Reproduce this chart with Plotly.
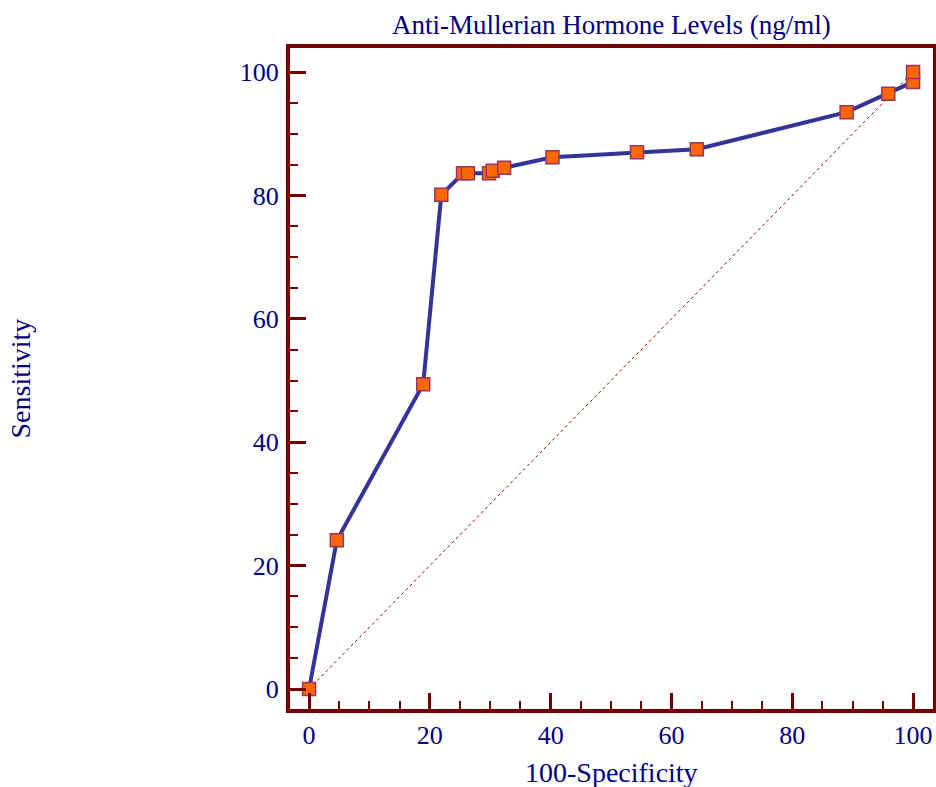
import plotly.graph_objects as go

# ROC points
fpr = [0, 4.6, 18.9, 21.9, 25.5, 26.3, 29.8, 30.4, 32.3, 40.3, 54.3, 64.2, 89.0, 95.9, 100, 100]
sens = [0, 24.1, 49.4, 80.1, 83.6, 83.6, 83.6, 84.0, 84.5, 86.2, 87.0, 87.5, 93.5, 96.5, 98.4, 100]
diag_x = [0, 100]
diag_y = [0, 100]
tick_vals = [0, 20, 40, 60, 80, 100]
tick_text = ["0", "20", "40", "60", "80", "100"]

FONT = "Liberation Serif, Times New Roman, serif"
NAVY = "#000080"
FRAME = "#750000"

fig = go.Figure()
fig.add_trace(go.Scatter(x=diag_x, y=diag_y, mode="lines",
                         line=dict(color="#990000", width=1, dash="dot"),
                         hoverinfo="skip", showlegend=False))
fig.add_trace(go.Scatter(x=fpr, y=sens, mode="lines+markers",
                         line=dict(color="#333399", width=4),
                         marker=dict(symbol="square", size=13, color="#FF6600",
                                     line=dict(color="#993366", width=1.5)),
                         showlegend=False))

axis_common = dict(
    showgrid=False, zeroline=False, automargin=False,
    showline=True, linecolor=FRAME, linewidth=4, mirror=True,
    ticks="inside", ticklen=16, tickwidth=3, tickcolor=FRAME,
    tickvals=tick_vals, ticktext=tick_text,
    tickfont=dict(family=FONT, size=26, color=NAVY),
    minor=dict(dtick=5, ticks="inside", ticklen=8, tickwidth=2, tickcolor=FRAME),
)

fig.update_xaxes(range=[-3.15, 103.3], **axis_common)
fig.update_yaxes(range=[-3.24, 103.9], ticklabelstandoff=2, **axis_common)

fig.update_layout(
    width=936, height=787,
    margin=dict(l=290, r=3, t=48, b=78),
    plot_bgcolor="white", paper_bgcolor="white",
    font=dict(family=FONT, color=NAVY),
    annotations=[
        dict(text="Anti-Mullerian Hormone Levels (ng/ml)", xref="paper", yref="paper",
             x=0.5, y=1.0, yshift=23, xanchor="center", yanchor="middle",
             showarrow=False, font=dict(family=FONT, size=27, color=NAVY)),
        dict(text="100-Specificity", xref="paper", yref="paper",
             x=0.5, y=0, yshift=-63, xanchor="center", yanchor="middle",
             showarrow=False, font=dict(family=FONT, size=28, color=NAVY)),
        dict(text="Sensitivity", xref="paper", yref="paper",
             x=0, y=0.5, xshift=-270, xanchor="center", yanchor="middle",
             textangle=-90, showarrow=False, font=dict(family=FONT, size=28, color=NAVY)),
    ],
)

fig.write_html("out.html", config={"displayModeBar": False},
               post_script="document.body.style.margin='0';document.body.style.overflow='hidden';")
